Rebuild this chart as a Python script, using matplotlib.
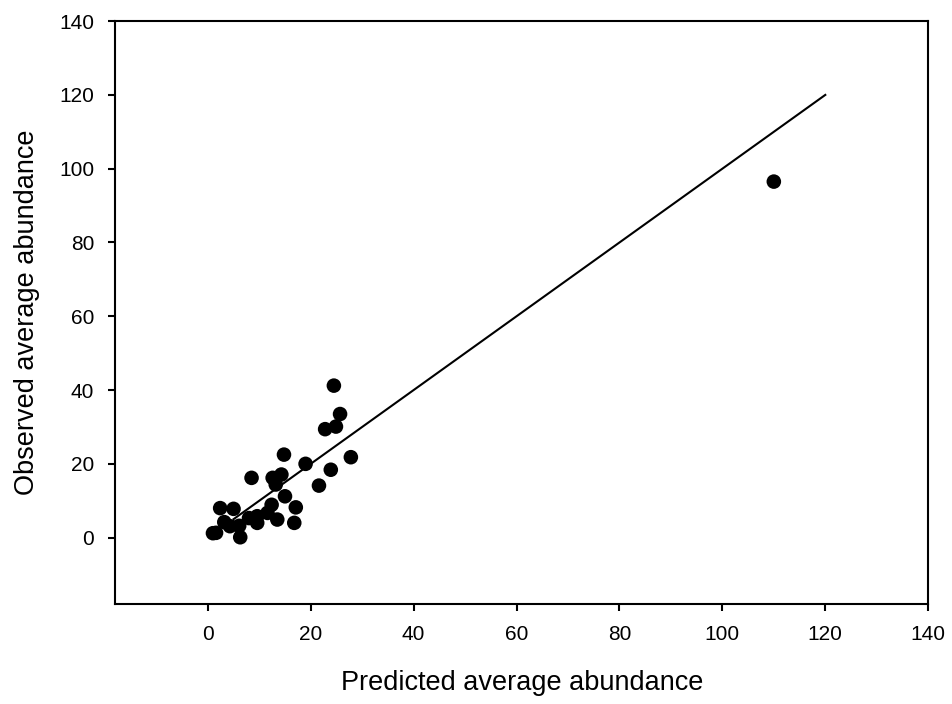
import matplotlib
matplotlib.use("Agg")
import matplotlib.pyplot as plt
import numpy as np

plt.rcParams["font.family"] = ["Liberation Sans", "DejaVu Sans"]

# predicted vs observed average abundance
predicted = [24.5, 25.7, 24.9, 22.8, 27.8, 14.8, 19.0, 23.9, 8.5, 12.6,
             14.3, 21.6, 13.2, 15.0, 12.4, 17.1, 11.6, 9.6, 8.0, 13.5,
             16.8, 9.6, 2.4, 5.0, 3.2, 6.1, 1.6, 4.3, 6.3, 1.0, 110.0]
observed = [41.2, 33.5, 30.1, 29.4, 21.8, 22.5, 20.0, 18.4, 16.2, 16.2,
            17.1, 14.1, 14.4, 11.2, 8.9, 8.2, 6.7, 5.8, 5.3, 4.9,
            4.0, 4.0, 8.0, 7.8, 4.2, 3.2, 1.3, 3.1, 0.1, 1.2, 96.5]

# 1:1 reference line
line_x = [5, 120]
line_y = [5, 120]

ticks = [0, 20, 40, 60, 80, 100, 120, 140]

fig = plt.figure(figsize=(9.52, 7.04), dpi=100)
ax = fig.add_axes([0.121, 0.142, 0.854, 0.828])

ax.plot(line_x, line_y, color="black", lw=1.5, zorder=2)
ax.scatter(predicted, observed, s=110, color="black", edgecolors="none", zorder=3)

ax.set_xlim(-18, 140)
ax.set_ylim(-18, 140)
ax.set_xticks(ticks)
ax.set_yticks(ticks)
ax.tick_params(direction="out", length=5, width=1.5, labelsize=15, pad=10,
               top=False, right=False)
for sp in ax.spines.values():
    sp.set_linewidth(1.5)

ax.set_xlabel("Predicted average abundance", fontsize=19.5, labelpad=19)
ax.set_ylabel("Observed average abundance", fontsize=19.5, labelpad=14)

fig.savefig("out.png", dpi=100)
